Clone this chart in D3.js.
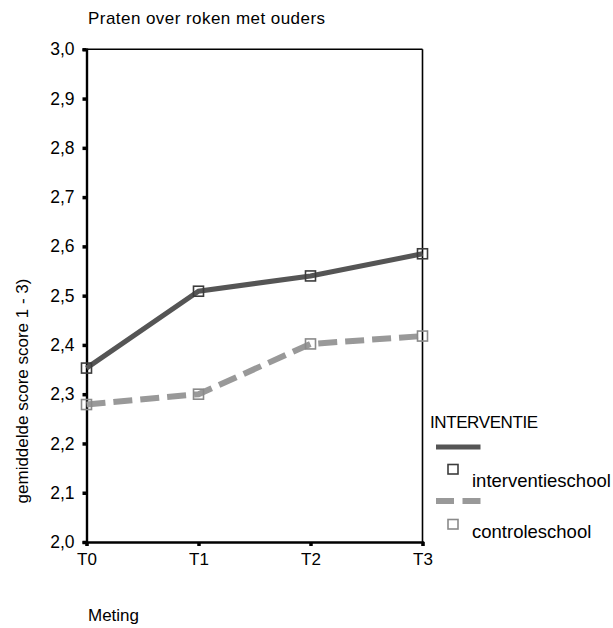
<!DOCTYPE html>
<html><head><meta charset="utf-8">
<script src="https://cdn.jsdelivr.net/npm/d3@7"></script>
<style>body{margin:0;background:#fff;} svg{display:block;font-family:"Liberation Sans",Arial,sans-serif;}</style>
</head><body><svg id="c" width="613" height="628"></svg>
<script>
const categories = ["T0","T1","T2","T3"];
const interventieschool = [2.353, 2.509, 2.540, 2.585];
const controleschool = [2.279, 2.300, 2.402, 2.418];
const yTicks = [2.0,2.1,2.2,2.3,2.4,2.5,2.6,2.7,2.8,2.9,3.0];

const svg = d3.select("#c");
const FF = "Liberation Sans, Arial, sans-serif";
const L = 86.5, R = 422.5, T = 49.3, B = 542;
const x = d3.scalePoint().domain(categories).range([L, R]);
const y = d3.scaleLinear().domain([2.0, 3.0]).range([B, T]);
const fmt = d => d3.format(".1f")(d).replace(".", ",");

// frame
svg.append("line").attr("x1",L).attr("x2",R).attr("y1",T).attr("y2",T).attr("stroke","#000").attr("stroke-width",1.6);
svg.append("line").attr("x1",R).attr("x2",R).attr("y1",T).attr("y2",B).attr("stroke","#000").attr("stroke-width",1.6);

// y axis
const ya = svg.append("g").attr("transform",`translate(${L},0)`)
  .call(d3.axisLeft(y).tickValues(yTicks).tickFormat(fmt).tickSize(4).tickPadding(8));
ya.select(".domain").attr("stroke","#000").attr("stroke-width",2.4);
ya.selectAll(".tick line").attr("stroke","#000").attr("stroke-width",3.5);
ya.selectAll(".tick text").attr("font-size",17.5).attr("fill","#000").attr("font-family",FF);

// x axis
const xa = svg.append("g").attr("transform",`translate(0,${B})`)
  .call(d3.axisBottom(x).tickSize(4).tickPadding(7));
xa.select(".domain").attr("stroke","#000").attr("stroke-width",2.4);
xa.selectAll(".tick line").attr("stroke","#000").attr("stroke-width",3.5);
xa.selectAll(".tick text").attr("font-size",17).attr("fill","#000").attr("font-family",FF);

const line = d3.line().x((d,i)=>x(categories[i])).y(d=>y(d));

svg.append("path").datum(controleschool).attr("d",line).attr("fill","none")
  .attr("stroke","#999").attr("stroke-width",6).attr("stroke-dasharray","19,8");
svg.append("path").datum(interventieschool).attr("d",line).attr("fill","none")
  .attr("stroke","#555").attr("stroke-width",5);

function markers(data, color){
  svg.append("g").selectAll("rect").data(data).join("rect")
    .attr("x",(d,i)=>x(categories[i])-5).attr("y",d=>y(d)-5)
    .attr("width",10).attr("height",10).attr("fill","none")
    .attr("stroke",color).attr("stroke-width",1.6);
}
markers(controleschool,"#8a8a8a");
markers(interventieschool,"#3c3c3c");

// title
svg.append("text").attr("x",88).attr("y",24).attr("font-size",17).attr("letter-spacing","0.45").text("Praten over roken met ouders");
// x label
svg.append("text").attr("x",88).attr("y",621).attr("font-size",17).text("Meting");
// y label
svg.append("text").attr("transform","translate(28,391) rotate(-90)").attr("text-anchor","middle")
  .attr("font-size",17).text("gemiddelde score score 1 - 3)");

// legend
svg.append("text").attr("x",430).attr("y",428).attr("font-size",17).attr("letter-spacing","-0.4").text("INTERVENTIE");
svg.append("line").attr("x1",436).attr("x2",480.5).attr("y1",447).attr("y2",447).attr("stroke","#555").attr("stroke-width",5);
svg.append("rect").attr("x",448).attr("y",464.5).attr("width",10).attr("height",9.5).attr("fill","none").attr("stroke","#3c3c3c").attr("stroke-width",1.6);
svg.append("text").attr("x",472).attr("y",487).attr("font-size",18.5).text("interventieschool");
svg.append("line").attr("x1",436).attr("x2",480.5).attr("y1",501).attr("y2",501).attr("stroke","#999").attr("stroke-width",6).attr("stroke-dasharray","18,8.5");
svg.append("rect").attr("x",448).attr("y",519.5).attr("width",10).attr("height",9.5).attr("fill","none").attr("stroke","#8a8a8a").attr("stroke-width",1.6);
svg.append("text").attr("x",472).attr("y",538).attr("font-size",18.5).text("controleschool");
</script></body></html>
